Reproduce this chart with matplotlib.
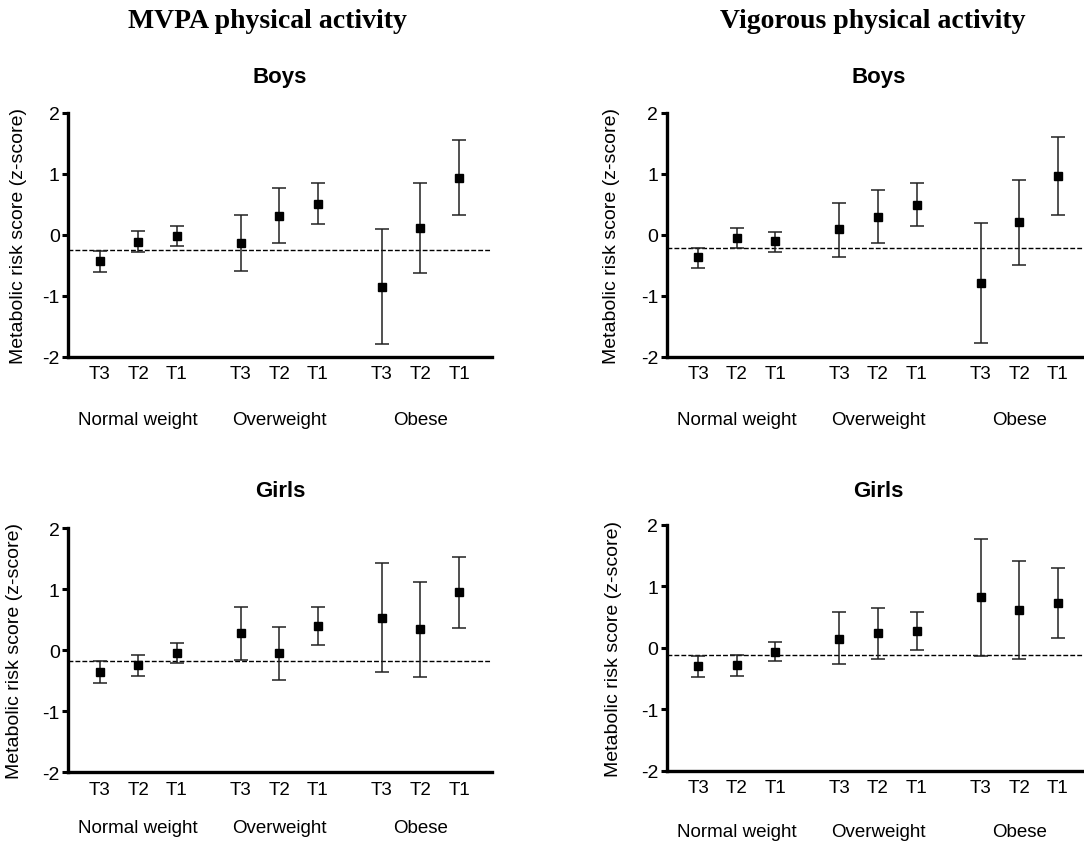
import matplotlib
matplotlib.use("Agg")
import matplotlib.pyplot as plt
import numpy as np

plt.rcParams['font.family'] = ['Liberation Sans', 'DejaVu Sans']
plt.rcParams['axes.unicode_minus'] = False

groups = ["Normal weight", "Overweight", "Obese"]
tertiles = ["T3", "T2", "T1"]
yticks = [-2, -1, 0, 1, 2]

# MVPA - Boys
mvpa_boys_mean = [-0.43, -0.11, -0.02, -0.13, 0.31, 0.51, -0.85, 0.11, 0.94]
mvpa_boys_low = [-0.61, -0.28, -0.19, -0.59, -0.13, 0.17, -1.79, -0.62, 0.33]
mvpa_boys_high = [-0.26, 0.07, 0.14, 0.33, 0.77, 0.85, 0.09, 0.85, 1.55]
mvpa_boys_ref = -0.245

# Vigorous - Boys
vig_boys_mean = [-0.37, -0.05, -0.10, 0.09, 0.30, 0.49, -0.79, 0.21, 0.97]
vig_boys_low = [-0.55, -0.22, -0.28, -0.37, -0.13, 0.15, -1.77, -0.49, 0.33]
vig_boys_high = [-0.21, 0.11, 0.05, 0.53, 0.74, 0.85, 0.19, 0.90, 1.61]
vig_boys_ref = -0.21

# MVPA - Girls
mvpa_girls_mean = [-0.35, -0.24, -0.05, 0.28, -0.05, 0.40, 0.52, 0.34, 0.95]
mvpa_girls_low = [-0.54, -0.42, -0.21, -0.16, -0.49, 0.08, -0.36, -0.44, 0.36]
mvpa_girls_high = [-0.17, -0.08, 0.12, 0.71, 0.38, 0.71, 1.42, 1.12, 1.53]
mvpa_girls_ref = -0.17

# Vigorous - Girls
vig_girls_mean = [-0.30, -0.28, -0.06, 0.15, 0.24, 0.27, 0.83, 0.62, 0.73]
vig_girls_low = [-0.48, -0.46, -0.22, -0.26, -0.18, -0.04, -0.13, -0.18, 0.16]
vig_girls_high = [-0.13, -0.11, 0.09, 0.59, 0.65, 0.59, 1.78, 1.41, 1.30]
vig_girls_ref = -0.12

W, H = 1084, 845
fig = plt.figure(figsize=(W / 100, H / 100), dpi=100)

def px_axes(left, top, right, bottom):
    return fig.add_axes([left / W, 1 - bottom / H, (right - left) / W, (bottom - top) / H])

gsp = 11 / 3.0
xpos = [g * gsp + o for g in range(3) for o in (-1, 0, 1)]
gcent = [g * gsp for g in range(3)]

panels = [
    (px_axes(68, 114, 492, 357.7), mvpa_boys_mean, mvpa_boys_low, mvpa_boys_high, mvpa_boys_ref, "Boys", 77, 45, -0.097),
    (px_axes(666.7, 114, 1090.7, 357.7), vig_boys_mean, vig_boys_low, vig_boys_high, vig_boys_ref, "Boys", 77, 45, -0.11),
    (px_axes(68, 529, 492, 773.3), mvpa_girls_mean, mvpa_girls_low, mvpa_girls_high, mvpa_girls_ref, "Girls", 492, 40, -0.106),
    (px_axes(666.7, 526, 1090.7, 771.7), vig_girls_mean, vig_girls_low, vig_girls_high, vig_girls_ref, "Girls", 492, 44, -0.106),
]

for ax, m, lo, hi, ref, title, ty, goff, ylx in panels:
    m = np.array(m); lo = np.array(lo); hi = np.array(hi)
    ax.axhline(ref, color='black', lw=1.0, ls=(0, (3.5, 1.5)), zorder=1)
    ax.errorbar(xpos, m, yerr=[m - lo, hi - m], fmt='s', color='black', ecolor='#222222',
                elinewidth=1.1, capsize=5, capthick=1.1, markersize=5.3, zorder=3)
    ax.set_xlim(-1.82, 9.19)
    ax.set_ylim(-2, 2)
    for s in ('top', 'right'):
        ax.spines[s].set_visible(False)
    for s in ('left', 'bottom'):
        ax.spines[s].set_linewidth(2.4)
    ax.set_yticks(yticks)
    ax.set_yticklabels([str(v) for v in yticks])
    ax.tick_params(axis='y', length=4, width=2.2, pad=2, labelsize=14)
    ax.set_xticks(xpos)
    ax.set_xticklabels(tertiles * 3)
    ax.tick_params(axis='x', which='major', length=0, pad=6, labelsize=13.5)
    ax.set_xticks(gcent, minor=True)
    ax.tick_params(axis='x', which='minor', length=5, width=2.2)
    ax.set_ylabel("Metabolic risk score (z-score)", fontsize=14)
    ax.yaxis.set_label_coords(ylx, 0.5)
    bb = ax.get_position()
    fig.text((bb.x0 + bb.x1) / 2, 1 - ty / H, title, ha='center', va='center',
             fontsize=16, fontweight='bold')
    for gx, gl in zip(gcent, groups):
        ax.annotate(gl, xy=(gx, 0), xycoords=('data', 'axes fraction'),
                    xytext=(0, -goff), textcoords='offset points',
                    ha='center', va='center', fontsize=13.5)

fig.text(267 / W, 1 - 22 / H, "MVPA physical activity", ha='center', va='center',
         fontsize=20, fontweight='bold', family=['Liberation Serif', 'DejaVu Serif'])
fig.text(873 / W, 1 - 22 / H, "Vigorous physical activity", ha='center', va='center',
         fontsize=20, fontweight='bold', family=['Liberation Serif', 'DejaVu Serif'])

fig.savefig("out.png", dpi=100)
